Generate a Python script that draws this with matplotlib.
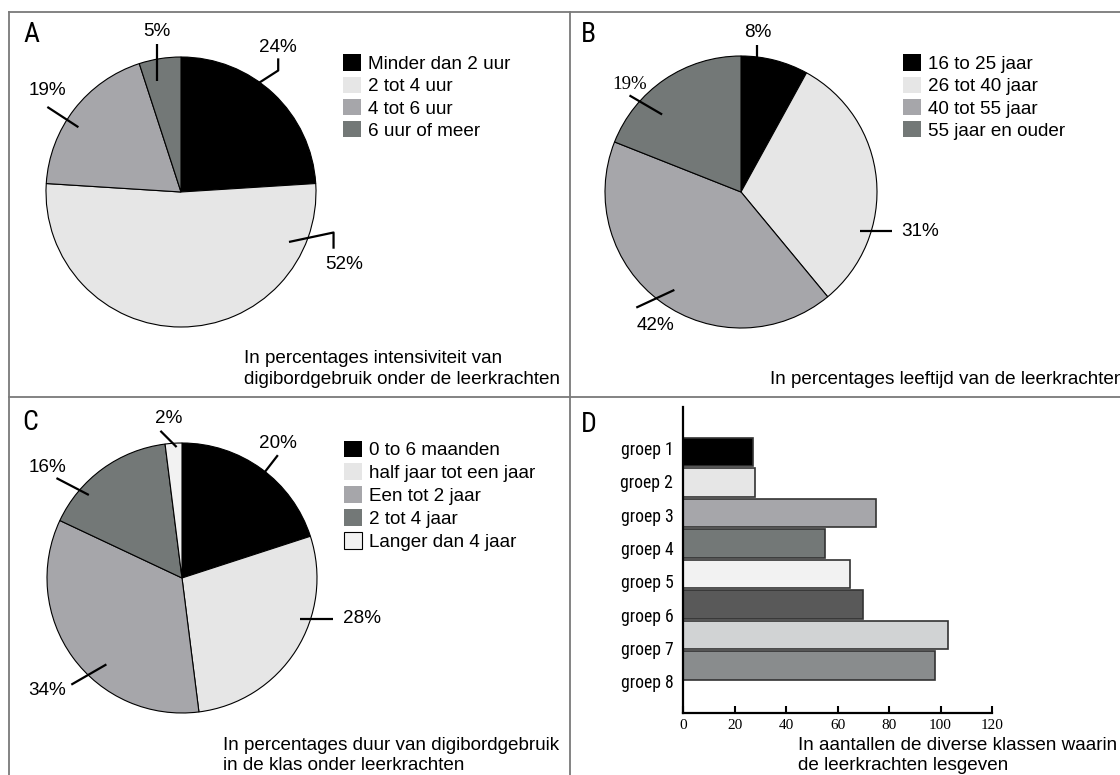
import os
import matplotlib
matplotlib.use("Agg")
import matplotlib.pyplot as plt
from matplotlib import font_manager
from matplotlib.font_manager import FontProperties
from matplotlib.patches import Patch
from matplotlib.lines import Line2D
import numpy as np

W, H = 1120, 775

# A: intensiteit van digibordgebruik (%)
uren_labels = ["Minder dan 2 uur", "2 tot 4 uur", "4 tot 6 uur", "6 uur of meer"]
uren_pct = [24, 52, 19, 5]

# B: leeftijd van de leerkrachten (%)
leeftijd_labels = ["16 to 25 jaar", "26 tot 40 jaar", "40 tot 55 jaar", "55 jaar en ouder"]
leeftijd_pct = [8, 31, 42, 19]

# C: duur van digibordgebruik (%)
duur_labels = ["0 to 6 maanden", "half jaar tot een jaar", "Een tot 2 jaar",
               "2 tot 4 jaar", "Langer dan 4 jaar"]
duur_pct = [20, 28, 34, 16, 2]

# D: aantallen klassen
groepen = ["groep 1", "groep 2", "groep 3", "groep 4",
           "groep 5", "groep 6", "groep 7", "groep 8"]
klassen = [27, 28, 75, 55, 65, 70, 103, 98]
x_ticks = [0, 20, 40, 60, 80, 100, 120]

BLACK, LIGHT, MID, DARK, PALE = "#000000", "#e6e6e6", "#a6a6aa", "#737877", "#f2f2f2"
bar_colors = [BLACK, LIGHT, MID, DARK, PALE, "#595959", "#d1d3d4", "#898c8d"]

SANS = ["Liberation Sans", "DejaVu Sans"]
SERIF = ["Liberation Serif", "DejaVu Serif"]
FS = 13.6


def find_narrow():
    # a condensed sans for the panel letters and group labels, if one is installed
    prefs = ["LiberationSansNarrow-Regular", "RobotoCondensed-Regular",
             "DejaVuSansCondensed.ttf", "NotoSans-Condensed.", "NotoSans-CondensedRegular",
             "OpenSans_Condensed-Regular", "OpenSans-CondensedRegular"]
    files = [f.fname for f in font_manager.fontManager.ttflist]
    for p in prefs:
        for fn in files:
            if p in os.path.basename(fn):
                return fn
    return None


narrow_file = find_narrow()


def narrow(size):
    if narrow_file:
        return FontProperties(fname=narrow_file, size=size)
    return FontProperties(family=SANS, size=size * 0.85)


fig = plt.figure(figsize=(W / 100, H / 100), dpi=100)


def px_axes(x0, y0, w, h):
    return fig.add_axes([x0 / W, 1 - (y0 + h) / H, w / W, h / H])


def fig_xy(x, y):
    return x / W, 1 - y / H


def pie_panel(cx, cy, r, values, colors, label_pos, leaders, serif_idx=()):
    ax = px_axes(cx - r, cy - r, 2 * r, 2 * r)
    ax.pie(values, colors=colors, startangle=90, counterclock=False, radius=1,
           wedgeprops=dict(edgecolor="black", linewidth=0.8))
    ax.set_xlim(-1, 1)
    ax.set_ylim(-1, 1)
    ax.axis("off")
    for i, (v, (tx, ty), pts) in enumerate(zip(values, label_pos, leaders)):
        fam = SERIF if i in serif_idx else SANS
        ax.text(tx, ty, f"{v}%", ha="center", va="center", fontsize=FS,
                family=fam, clip_on=False)
        xs, ys = zip(*pts)
        ax.plot(xs, ys, color="black", lw=1.6, clip_on=False,
                solid_capstyle="butt")
    return ax


def legend(labels, colors, x, y, edges=None, spacing=0.18):
    edges = edges or ["none"] * len(colors)
    handles = [Patch(facecolor=c, edgecolor=e, linewidth=0.8)
               for c, e in zip(colors, edges)]
    fig.legend(handles, labels, loc="upper left", bbox_to_anchor=fig_xy(x, y),
               frameon=False, prop=dict(family=SANS, size=FS),
               handlelength=0.97, handleheight=0.97, handletextpad=0.36,
               labelspacing=spacing, borderpad=0, borderaxespad=0)


# --- A ---
pie_panel(181, 192, 135, uren_pct, [BLACK, LIGHT, MID, DARK],
          [(0.72, 1.07), (1.21, -0.54), (-0.99, 0.75), (-0.18, 1.19)],
          [[(0.72, 0.99), (0.72, 0.90), (0.58, 0.81), (0.49, 0.74)],
           [(1.13, -0.42), (1.13, -0.30), (0.80, -0.37)],
           [(-0.99, 0.63), (-0.76, 0.48)],
           [(-0.18, 1.10), (-0.18, 0.82)]])
legend(uren_labels, [BLACK, LIGHT, MID, DARK], 343, 54.5)

# --- B ---
pie_panel(741, 192, 136, leeftijd_pct, [BLACK, LIGHT, MID, DARK],
          [(0.125, 1.17), (1.32, -0.29), (-0.63, -0.98), (-0.82, 0.79)],
          [[(0.118, 1.08), (0.118, 0.91)],
           [(0.875, -0.29), (1.11, -0.29)],
           [(-0.77, -0.85), (-0.49, -0.72)],
           [(-0.82, 0.71), (-0.58, 0.57)]],
          serif_idx=(3,))
legend(leeftijd_labels, [BLACK, LIGHT, MID, DARK], 903, 54.5)

# --- C ---
pie_panel(182, 578, 135, duur_pct, [BLACK, LIGHT, MID, DARK, PALE],
          [(0.71, 1.0), (1.33, -0.30), (-1.0, -0.83), (-1.0, 0.82), (-0.10, 1.185)],
          [[(0.71, 0.91), (0.54, 0.69)],
           [(0.874, -0.30), (1.12, -0.30)],
           [(-0.82, -0.79), (-0.56, -0.64)],
           [(-0.93, 0.74), (-0.69, 0.615)],
           [(-0.16, 1.09), (-0.04, 0.97)]])
legend(duur_labels, [BLACK, LIGHT, MID, DARK, PALE], 344, 440.5,
       edges=["none", "none", "none", "none", "black"], spacing=0.22)

# --- D ---
axd = px_axes(683, 407, 309, 306)
ypos = np.arange(len(groepen))
axd.barh(ypos, klassen, height=0.92, color=bar_colors, edgecolor="#333333",
         linewidth=1.2)
axd.set_xlim(0, 120)
axd.set_ylim(8.557, -1.475)
axd.set_xticks(x_ticks)
axd.set_xticklabels([str(t) for t in x_ticks], family=SERIF, fontsize=11)
axd.set_yticks(ypos * 1.092 - 0.13)
axd.set_yticklabels(groepen, fontproperties=narrow(12.7))
axd.tick_params(axis="x", direction="in", length=5, width=1.5, pad=4)
axd.tick_params(axis="y", length=0, pad=7)
for s in ("top", "right"):
    axd.spines[s].set_visible(False)
for s in ("left", "bottom"):
    axd.spines[s].set_linewidth(1.6)

# captions
caption = dict(family=SANS, fontsize=FS, ha="left", va="center")
fig.text(*fig_xy(244, 359), "In percentages intensiviteit van", **caption)
fig.text(*fig_xy(244, 380), "digibordgebruik onder de leerkrachten", **caption)
fig.text(*fig_xy(770, 380), "In percentages leeftijd van de leerkrachten", **caption)
fig.text(*fig_xy(223, 745), "In percentages duur van digibordgebruik", **caption)
fig.text(*fig_xy(223, 766), "in de klas onder leerkrachten", **caption)
fig.text(*fig_xy(798, 745), "In aantallen de diverse klassen waarin", **caption)
fig.text(*fig_xy(798, 765), "de leerkrachten lesgeven", **caption)

# panel letters
for letter, (lx, ly) in zip("ABCD", [(31, 35), (588, 35), (30, 423), (589, 425)]):
    fig.text(*fig_xy(lx, ly), letter, fontproperties=narrow(20),
             ha="center", va="center")

# panel frames
frame = dict(color="#7a7a7a", lw=1.3)
for (x0, y0), (x1, y1) in [((9, 12), (1120, 12)), ((9, 12), (9, 775)),
                           ((570, 12), (570, 775)), ((9, 397), (1120, 397))]:
    fig.add_artist(Line2D([x0 / W, x1 / W], [1 - y0 / H, 1 - y1 / H], **frame))

fig.savefig("out.png", dpi=100)
